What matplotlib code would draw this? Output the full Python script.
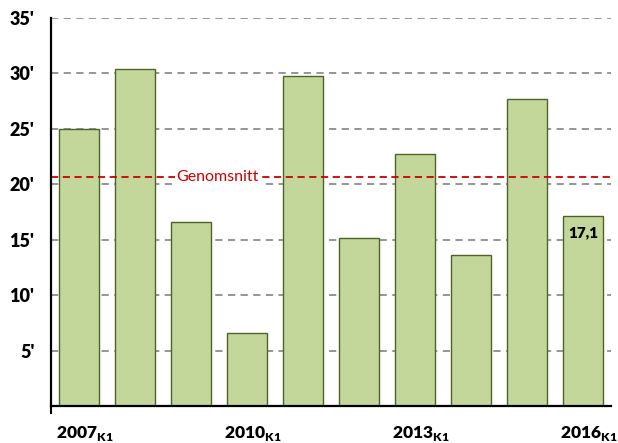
import matplotlib
matplotlib.use("Agg")
import matplotlib.pyplot as plt
from matplotlib.ticker import FixedLocator

plt.rcParams['font.family'] = ['Lato', 'DejaVu Sans']
plt.rcParams['mathtext.fontset'] = 'custom'
plt.rcParams['mathtext.rm'] = 'Lato'
plt.rcParams['mathtext.bf'] = 'Lato:heavy'

years = ["2007", "2008", "2009", "2010", "2011", "2012", "2013", "2014", "2015", "2016"]
values = [25.0, 30.4, 16.6, 6.6, 29.8, 15.15, 22.7, 13.6, 27.7, 17.1]
average = 20.7
avg_label = "Genomsnitt"
yticks = [0, 5, 10, 15, 20, 25, 30, 35]
ytick_labels = ["", "5'", "10'", "15'", "20'", "25'", "30'", "35'"]
labeled_idx = [0, 3, 6, 9]
last_label = "17,1"

fig = plt.figure(figsize=(6.18, 4.43), dpi=100)
ax = fig.add_axes([0.0825, 0.0835, 0.9062, 0.8759])

x = list(range(len(values)))
ax.bar(x, values, width=0.72, color="#c4d79b", edgecolor="#4f6228", linewidth=1.0, zorder=3)

ax.set_xlim(-0.5, len(values) - 0.5)
ax.set_ylim(0, 35)
ax.set_yticks(yticks)
ax.set_yticklabels(ytick_labels, fontsize=13, fontweight='heavy')
ax.tick_params(axis='y', length=0, pad=12)
ax.yaxis.set_minor_locator(FixedLocator([0]))
ax.tick_params(axis='y', which='minor', length=6, width=1.5, direction='out')

ax.set_xticks([i + 0.1 for i in labeled_idx])
ax.set_xticklabels([r"$\mathbf{" + years[i] + r"}_{\mathbf{K1}}$" for i in labeled_idx], fontsize=12.5)
ax.tick_params(axis='x', length=0, pad=13)
ax.xaxis.set_minor_locator(FixedLocator([-0.5]))
ax.tick_params(axis='x', which='minor', length=6, width=1.5, direction='out')

for yv in yticks[1:]:
    ax.axhline(yv, color="#8c8c8c", linestyle=(0, (4, 3)), linewidth=1.3, zorder=1)

ax.axhline(average, color="#cc0000", linestyle=(0, (4, 2.5)), linewidth=1.3, zorder=4)
ax.text(2.48, average, avg_label, color="#cc0000", fontsize=11.5, ha='center', va='center',
        bbox=dict(facecolor='white', edgecolor='none', pad=1.5), zorder=5)

ax.text(x[-1], values[-1] - 1.5, last_label, fontsize=11, fontweight='heavy', ha='center', va='center', zorder=6)

for s in ['top', 'right']:
    ax.spines[s].set_visible(False)
for s in ['left', 'bottom']:
    ax.spines[s].set_linewidth(1.6)
    ax.spines[s].set_color('black')
ax.spines['left'].set_zorder(6)
ax.spines['bottom'].set_zorder(6)

fig.savefig("out.png", dpi=100)
